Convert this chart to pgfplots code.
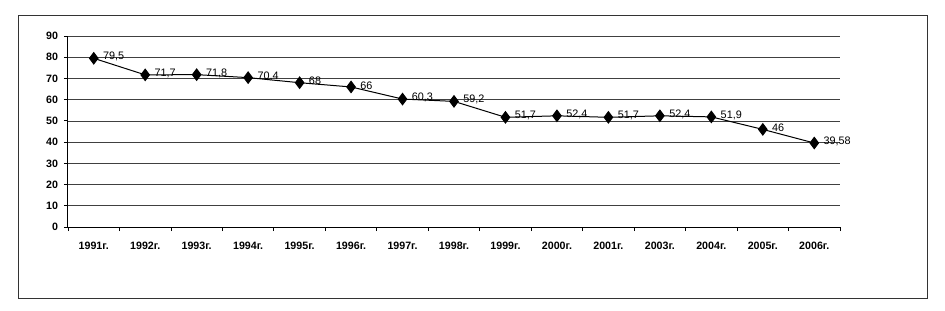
\documentclass[border=0pt]{standalone}
\usepackage{fontspec}
\setmainfont{Liberation Sans}
\usepackage{pgfplots}
\usepackage{pgfplotstable}
\pgfplotsset{compat=1.18}
\pgfplotstableread{
x y lab
0 79.5 79,5
1 71.7 71,7
2 71.8 71,8
3 70.4 70,4
4 68 68
5 66 66
6 60.3 60,3
7 59.2 59,2
8 51.7 51,7
9 52.4 52,4
10 51.7 51,7
11 52.4 52,4
12 51.9 51,9
13 46 46
14 39.58 39,58
}\datatable
\begin{document}
\begin{tikzpicture}
\path[use as bounding box] (-40.8pt,-49.8pt) rectangle (526.2pt,136.2pt);
\draw[line width=0.6pt, black!80] (-30pt,-42.6pt) rectangle (515.4pt,127.2pt);
\begin{axis}[
  at={(0,0)}, anchor=south west,
  scale only axis, width=463.2pt, height=114.6pt,
  xmin=-0.5, xmax=14.5, ymin=0, ymax=90,
  axis x line*=bottom, axis y line*=left,
  axis line style={line width=0.6pt, -},
  xtick={0,...,14},
  xticklabels={1991г.,1992г.,1993г.,1994г.,1995г.,1996г.,1997г.,1998г.,1999г.,2000г.,2001г.,2003г.,2004г.,2005г.,2006г.},
  minor xtick={-0.5,0.5,...,14.5},
  major x tick style={draw=none},
  minor x tick style={black, line width=0.5pt},
  ytick={0,10,...,90},
  y tick style={black, line width=0.5pt},
  tick align=outside,
  major tick length=2.5pt, minor tick length=2.5pt,
  ymajorgrids,
  grid style={black!75, line width=0.45pt},
  tick label style={font=\fontsize{6.4}{7}\selectfont\bfseries},
  xticklabel style={yshift=-3pt},
  /pgf/number format/assume math mode=true,
  clip=false,
]
\addplot[black, line width=0.6pt, mark=diamond*, mark size=3.4pt,
  mark options={fill=black},
  nodes near coords={\pgfplotspointmeta},
  point meta=explicit symbolic,
  every node near coord/.append style={anchor=west, xshift=2pt, yshift=1pt, font=\fontsize{6.5}{7}\selectfont, text=black}]
  table[x=x, y=y, meta=lab] {\datatable};
\end{axis}
\end{tikzpicture}
\end{document}
